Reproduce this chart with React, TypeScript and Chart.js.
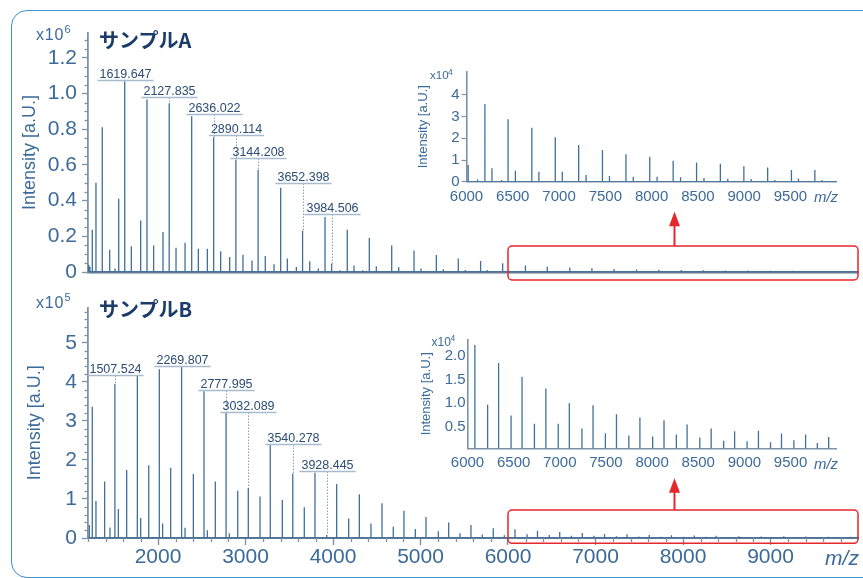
import React, { useEffect, useRef } from "react";
import { Chart, registerables } from "chart.js";

Chart.register(...registerables);

// ---------------- DATA ----------------
// Sample A: peak m/z and intensity [a.U.]
const mzA = [
  1208, 1222, 1249, 1291, 1363, 1448, 1509, 1551, 1619.647, 1695, 1802, 1874, 1950, 2057,
  2127.835, 2206, 2309, 2385, 2461, 2564, 2636.022, 2716, 2819, 2890.114, 2971, 3074,
  3144.208, 3226, 3326, 3402, 3478, 3581, 3652.398, 3734, 3832, 3909, 3984.506, 4080, 4163,
  4240, 4339, 4415, 4495, 4671, 4751, 4926, 5006, 5181, 5261, 5432, 5512, 5687, 5763, 5939,
  6018, 6119, 6199, 6275, 6380, 6449, 6528, 6706, 6782, 6959, 7035, 7212, 7292, 7469, 7545,
  7723, 7802, 7980, 8059, 8233, 8313, 8486, 8566, 8743, 8823, 8997, 9076, 9254, 9330, 9511,
  9587, 9764, 9841,
];
const intensityA = [
  40000, 30000, 237000, 500000, 812000, 125000, 20000, 410000, 1070000, 144000, 289000, 967000,
  149000, 224000, 946000, 136000, 164000, 873000, 131000, 131000, 756000, 116000, 84000,
  629000, 97000, 65000, 573000, 90000, 43000, 472000, 75000, 28000, 233000, 60000, 20000,
  308000, 47000, 10000, 237000, 37000, 10000, 192000, 32000, 149000, 28000, 121000, 20000,
  95000, 15000, 75000, 11000, 62000, 11000, 49000,
  7700, 1000, 35800, 6200, 800, 28800, 5100, 24900, 4600, 20500, 4600, 16900, 3100, 14600,
  2600, 12600, 2300, 11500, 2300, 9700, 2000, 8900, 1700, 8300, 1400, 7100, 1200, 6600, 800,
  5400, 1500, 5400, 800,
];

// Sample B: peak m/z and intensity [a.U.]
const mzB = [
  1215, 1249, 1291, 1390, 1451, 1507.524, 1547, 1642, 1764, 1802, 1894, 2015, 2053, 2145,
  2269.807, 2309, 2404, 2526, 2564, 2655, 2777.995, 2815, 2911, 3032.089, 3166, 3283, 3421,
  3540.278, 3672, 3794, 3928.445, 4042, 4179, 4301, 4434, 4560, 4689, 4811, 4941, 5063, 5204,
  5322, 5451, 5577, 5706, 5832, 5958, 6080, 6218, 6337, 6472, 6591, 6725, 6849, 6983, 7103,
  7240, 7360, 7494, 7614, 7748, 7868, 8006, 8129, 8263, 8379, 8517, 8640, 8775, 8894, 9029,
  9152, 9283, 9402, 9536, 9663, 9790, 9913,
];
const intensityB = [
  33000, 336000, 95000, 145000, 27000, 395000, 74000, 174000, 417000, 51000, 186000, 432000,
  37000, 180000, 438000, 26000, 164000, 376000, 20000, 145000, 322000, 12000, 121000, 128000,
  106000, 240000, 97000, 165000, 79000, 167000, 8000, 138000, 50000, 112000, 37000, 89000,
  29000, 70000, 23000, 54000, 17000, 40000, 12000, 33000, 9000, 25000, 7000, 22300, 9700,
  18500, 7400, 15600, 5700, 13100, 5700, 10000, 4700, 9600, 3700, 7700, 3200, 7000, 3000,
  6400, 3400, 5500, 2800, 4700, 2100, 4100, 2000, 4200, 1800, 3600, 2200, 3400, 1600, 2900,
];

// Annotated peaks and the level (in axis units) of their label
const labelMzA = [1619.647, 2127.835, 2636.022, 2890.114, 3144.208, 3652.398, 3984.506];
const labelLevelA = [1.076, 0.983, 0.886, 0.768, 0.637, 0.497, 0.323];
const labelMzB = [1507.524, 2269.807, 2777.995, 3032.089, 3540.278, 3928.445];
const labelLevelB = [4.18, 4.41, 3.78, 3.215, 2.41, 1.71];

// Tick values
const xTicksMain = [2000, 3000, 4000, 5000, 6000, 7000, 8000, 9000];
const yTicksMainA = [0, 0.2, 0.4, 0.6, 0.8, 1.0, 1.2];
const yTicksMainB = [0, 1, 2, 3, 4, 5];
const xTicksInset = [6000, 6500, 7000, 7500, 8000, 8500, 9000, 9500];
const yTicksInsetA = [0, 1, 2, 3, 4];
const yTicksInsetB = [0.5, 1.0, 1.5, 2.0];

const titleA = "サンプルA";
const titleB = "サンプルB";
const yTitle = "Intensity [a.U.]";

// ---------------- STYLE ----------------
const FONT = '"Liberation Sans", Arial, sans-serif';
const CJK = '"Noto Sans CJK JP", "Noto Sans", sans-serif';
const AXIS_TEXT = "#3c6b9a";
const AXIS_LINE = "#7f93a6";
const BASE_LINE = "#5f7a92";
const PEAK = "#41709b";
const TITLE_DARK = "#1b3c69";
const RED = "#e8262e";
const FRAME = "#3b93d3";
const LABEL_TEXT = "#2b4c74";
const LABEL_LINE = "#a9bccf";
const CONNECT = "#8aa0b6";

function spikes(mz: number[], inten: number[], div: number, lo: number, hi: number) {
  const pts: { x: number; y: number }[] = [{ x: lo, y: 0 }];
  for (let i = 0; i < mz.length; i++) {
    if (mz[i] < lo || mz[i] > hi) continue;
    const v = inten[i] / div;
    pts.push({ x: mz[i], y: 0 }, { x: mz[i], y: v }, { x: mz[i], y: 0 });
  }
  pts.push({ x: hi, y: 0 });
  return pts;
}

const setTicks = (vals: number[]) => (s: any) => {
  s.ticks = vals.map((v) => ({ value: v }));
};

function minorTicks(axisId: string, from: number, to: number, step: number, major: number, len: number) {
  return {
    id: "minor-" + axisId,
    afterDraw(chart: any) {
      const s = chart.scales[axisId];
      const ctx = chart.ctx;
      ctx.save();
      ctx.strokeStyle = AXIS_LINE;
      ctx.lineWidth = 1.3;
      for (let i = 0; ; i++) {
        const v = from + i * step;
        if (v > to + 1e-9) break;
        const r = v / major;
        if (Math.abs(r - Math.round(r)) < 1e-6) continue;
        const p = Math.round(s.getPixelForValue(v)) + 0.5;
        ctx.beginPath();
        if (s.isHorizontal()) {
          ctx.moveTo(p, s.top);
          ctx.lineTo(p, s.top + len);
        } else {
          ctx.moveTo(s.right, p);
          ctx.lineTo(s.right - len, p);
        }
        ctx.stroke();
      }
      ctx.restore();
    },
  };
}

function peakLabels(mzs: number[], levels: number[], mzArr: number[], intArr: number[], div: number) {
  return {
    id: "peakLabels",
    afterDatasetsDraw(chart: any) {
      const { ctx } = chart;
      const xs = chart.scales.x;
      const ys = chart.scales.y;
      ctx.save();
      ctx.font = `12.5px ${FONT}`;
      mzs.forEach((m, i) => {
        const px = Math.round(xs.getPixelForValue(m)) + 0.5;
        const py = Math.round(ys.getPixelForValue(levels[i])) + 0.5;
        const txt = m.toFixed(3);
        const w = ctx.measureText(txt).width;
        const idx = mzArr.indexOf(m);
        const top = ys.getPixelForValue(intArr[idx] / div);
        if (top > py + 1.5) {
          ctx.strokeStyle = CONNECT;
          ctx.lineWidth = 1;
          ctx.setLineDash([1.5, 1.5]);
          ctx.beginPath();
          ctx.moveTo(px, py);
          ctx.lineTo(px, top);
          ctx.stroke();
          ctx.setLineDash([]);
        }
        ctx.strokeStyle = LABEL_LINE;
        ctx.lineWidth = 1.6;
        ctx.beginPath();
        ctx.moveTo(px - w / 2 - 2, py);
        ctx.lineTo(px + w / 2 + 2, py);
        ctx.stroke();
        ctx.fillStyle = LABEL_TEXT;
        ctx.textAlign = "center";
        ctx.textBaseline = "alphabetic";
        ctx.fillText(txt, px, py - 3);
      });
      ctx.restore();
    },
  };
}

function zoomBox(fromMz: number, topOff: number, botOff: number, arrowMz: number, arrowLen: number) {
  return {
    id: "zoomBox",
    afterDraw(chart: any) {
      const { ctx, chartArea } = chart;
      const xs = chart.scales.x;
      const l = xs.getPixelForValue(fromMz);
      const r = chartArea.right;
      const t = chartArea.bottom - topOff;
      const b = chartArea.bottom + botOff;
      ctx.save();
      ctx.strokeStyle = RED;
      ctx.lineWidth = 1.5;
      ctx.beginPath();
      ctx.roundRect(l, t, r - l, b - t, 4);
      ctx.stroke();
      const ax = Math.round(xs.getPixelForValue(arrowMz)) + 0.5;
      ctx.lineWidth = 2;
      ctx.beginPath();
      ctx.moveTo(ax, t);
      ctx.lineTo(ax, t - arrowLen + 13);
      ctx.stroke();
      ctx.fillStyle = RED;
      ctx.beginPath();
      ctx.moveTo(ax, t - arrowLen);
      ctx.lineTo(ax - 5.5, t - arrowLen + 14.5);
      ctx.lineTo(ax + 5.5, t - arrowLen + 14.5);
      ctx.closePath();
      ctx.fill();
      ctx.restore();
    },
  };
}

const baseOptions = {
  animation: false,
  responsive: false,
  events: [],
  plugins: { legend: { display: false }, tooltip: { enabled: false } },
};

function peakDataset(data: any[]) {
  return {
    data,
    borderColor: PEAK,
    borderWidth: 1.3,
    pointRadius: 0,
    tension: 0,
    borderJoinStyle: "bevel",
  };
}

function mainConfig(which: "A" | "B") {
  const isA = which === "A";
  const div = isA ? 1e6 : 1e5;
  const mz = isA ? mzA : mzB;
  const inten = isA ? intensityA : intensityB;
  const yMax = isA ? 1.34 : 5.9;
  return {
    type: "line",
    data: { datasets: [peakDataset(spikes(mz, inten, div, 1200, 10000))] },
    options: {
      ...baseOptions,
      layout: { padding: { top: isA ? 33 : 10, right: 5, left: 0, bottom: 0 } },
      scales: {
        x: {
          type: "linear",
          min: 1200,
          max: 10000,
          afterBuildTicks: setTicks(xTicksMain),
          afterFit: (s: any) => {
            s.height = isA ? 18 : 40;
          },
          ticks: isA
            ? { display: false }
            : {
                display: true,
                autoSkip: false,
                maxRotation: 0,
                padding: 0,
                color: AXIS_TEXT,
                font: { family: FONT, size: 21 },
                callback: (v: any) => String(v),
              },
          grid: isA
            ? { display: false, drawTicks: false }
            : { display: true, drawOnChartArea: false, drawTicks: true, tickLength: 7, tickColor: AXIS_LINE, tickWidth: 1.4 },
          border: { display: true, color: BASE_LINE, width: isA ? 2.5 : 2 },
        },
        y: {
          type: "linear",
          min: 0,
          max: yMax,
          afterBuildTicks: setTicks(isA ? yTicksMainA : yTicksMainB),
          afterFit: (s: any) => {
            s.width = 88;
          },
          ticks: {
            autoSkip: false,
            padding: 5,
            color: AXIS_TEXT,
            font: { family: FONT, size: 21 },
            callback: (v: any) => (v === 0 ? "0" : isA ? Number(v).toFixed(1) : String(v)),
          },
          grid: { display: true, drawOnChartArea: false, drawTicks: true, tickLength: 6, tickColor: AXIS_LINE, tickWidth: 1.3 },
          border: { display: true, color: AXIS_LINE, width: 1.8 },
          title: {
            display: true,
            text: yTitle,
            color: AXIS_TEXT,
            font: { family: FONT, size: 18 },
            padding: { top: isA ? 19 : 24, bottom: 0 },
          },
        },
      },
    },
    plugins: [
      isA ? minorTicks("y", 0, 1.3, 0.05, 0.2, 3.5) : minorTicks("y", 0, 5.8, 0.2, 1, 3.5),
      ...(isA ? [] : [minorTicks("x", 1200, 9800, 200, 1000, 4)]),
      isA ? peakLabels(labelMzA, labelLevelA, mzA, intensityA, div) : peakLabels(labelMzB, labelLevelB, mzB, intensityB, div),
      isA ? zoomBox(6000, 26, 8, 7900, 34.3) : zoomBox(6000, 28, 5.3, 7900, 31.7),
    ],
  };
}

function insetConfig(which: "A" | "B") {
  const isA = which === "A";
  const mz = isA ? mzA : mzB;
  const inten = isA ? intensityA : intensityB;
  return {
    type: "line",
    data: { datasets: [peakDataset(spikes(mz, inten, 1e4, 6000, 10000))] },
    options: {
      ...baseOptions,
      layout: { padding: { top: isA ? 16.7 : 14.3, right: 13.3, left: 0, bottom: 0 } },
      scales: {
        x: {
          type: "linear",
          min: 6000,
          max: 10000,
          afterBuildTicks: setTicks(xTicksInset),
          afterFit: (s: any) => {
            s.height = isA ? 33.3 : 31.7;
          },
          ticks: {
            autoSkip: false,
            maxRotation: 0,
            padding: 6,
            color: AXIS_TEXT,
            font: { family: FONT, size: 15 },
            callback: (v: any) => String(v),
          },
          grid: { display: false, drawTicks: false },
          border: { display: true, color: AXIS_LINE, width: 1.6 },
        },
        y: {
          type: "linear",
          min: isA ? 0 : 0.05,
          max: isA ? 5.07 : 2.35,
          afterBuildTicks: setTicks(isA ? yTicksInsetA : yTicksInsetB),
          afterFit: (s: any) => {
            s.width = isA ? 56.5 : 57.5;
          },
          ticks: {
            autoSkip: false,
            padding: 2,
            color: AXIS_TEXT,
            font: { family: FONT, size: 15 },
            callback: (v: any) => (isA ? String(v) : Number(v).toFixed(1)),
          },
          grid: isA
            ? { display: true, drawOnChartArea: false, drawTicks: true, tickLength: 5, tickColor: AXIS_LINE, tickWidth: 1.2 }
            : { display: false, drawTicks: false },
          border: { display: true, color: AXIS_LINE, width: 1.6 },
          title: {
            display: true,
            text: yTitle,
            color: AXIS_TEXT,
            font: { family: FONT, size: 13 },
            padding: { top: isA ? 5.2 : 8.9, bottom: 0 },
          },
        },
      },
    },
  };
}

function ChartCanvas(props: { left: number; top: number; width: number; height: number; make: () => any }) {
  const ref = useRef<HTMLCanvasElement>(null);
  useEffect(() => {
    const chart = new Chart(ref.current as HTMLCanvasElement, props.make());
    return () => chart.destroy();
  }, []);
  const { left, top, width, height } = props;
  return (
    <canvas
      ref={ref}
      width={width}
      height={height}
      style={{ position: "absolute", left, top, width, height }}
    />
  );
}

function Txt(props: { left: number; top: number; size: number; children: any; style?: any }) {
  return (
    <div
      style={{
        position: "absolute",
        left: props.left,
        top: props.top,
        fontSize: props.size,
        lineHeight: props.size + "px",
        fontFamily: FONT,
        color: AXIS_TEXT,
        whiteSpace: "nowrap",
        ...(props.style || {}),
      }}
    >
      {props.children}
    </div>
  );
}

export default function App() {
  return (
    <div
      style={{
        position: "absolute",
        left: 0,
        top: 0,
        width: 863,
        height: 578,
        overflow: "hidden",
        background: "#fff",
      }}
    >
      <div
        style={{
          position: "absolute",
          left: 10.5,
          top: 10,
          width: 900,
          height: 567.5,
          boxSizing: "border-box",
          border: `1.5px solid ${FRAME}`,
          borderRadius: 16,
        }}
      />
      <ChartCanvas left={0} top={0} width={863} height={290} make={() => mainConfig("A")} />
      <ChartCanvas left={0} top={290} width={863} height={288} make={() => mainConfig("B")} />
      <ChartCanvas left={410} top={55} width={440} height={160} make={() => insetConfig("A")} />
      <ChartCanvas left={410} top={325} width={440} height={155} make={() => insetConfig("B")} />

      <Txt left={36} top={27.4} size={16} style={{ letterSpacing: 0.8 }}>x10</Txt>
      <Txt left={64.5} top={24} size={11}>6</Txt>
      <Txt left={36} top={295} size={16} style={{ letterSpacing: 0.8 }}>x10</Txt>
      <Txt left={64.5} top={291.5} size={11}>5</Txt>

      <Txt left={430} top={69.9} size={11.5}>x10</Txt>
      <Txt left={448} top={67.6} size={8.5}>4</Txt>
      <Txt left={431.5} top={335.8} size={12}>x10</Txt>
      <Txt left={450.5} top={333.6} size={8.5}>4</Txt>

      <Txt left={99} top={29.9} size={20} style={{ fontFamily: CJK, fontWeight: 700, color: TITLE_DARK }}>{titleA}</Txt>
      <Txt left={99} top={298.9} size={20} style={{ fontFamily: CJK, fontWeight: 700, color: TITLE_DARK }}>{titleB}</Txt>

      <Txt left={812} top={189.4} size={15} style={{ fontStyle: "italic", width: 28, textAlign: "center" }}>m/z</Txt>
      <Txt left={812} top={456} size={15} style={{ fontStyle: "italic", width: 28, textAlign: "center" }}>m/z</Txt>
      <Txt left={822} top={546.7} size={21} style={{ fontStyle: "italic", width: 40, textAlign: "center" }}>m/z</Txt>
    </div>
  );
}
